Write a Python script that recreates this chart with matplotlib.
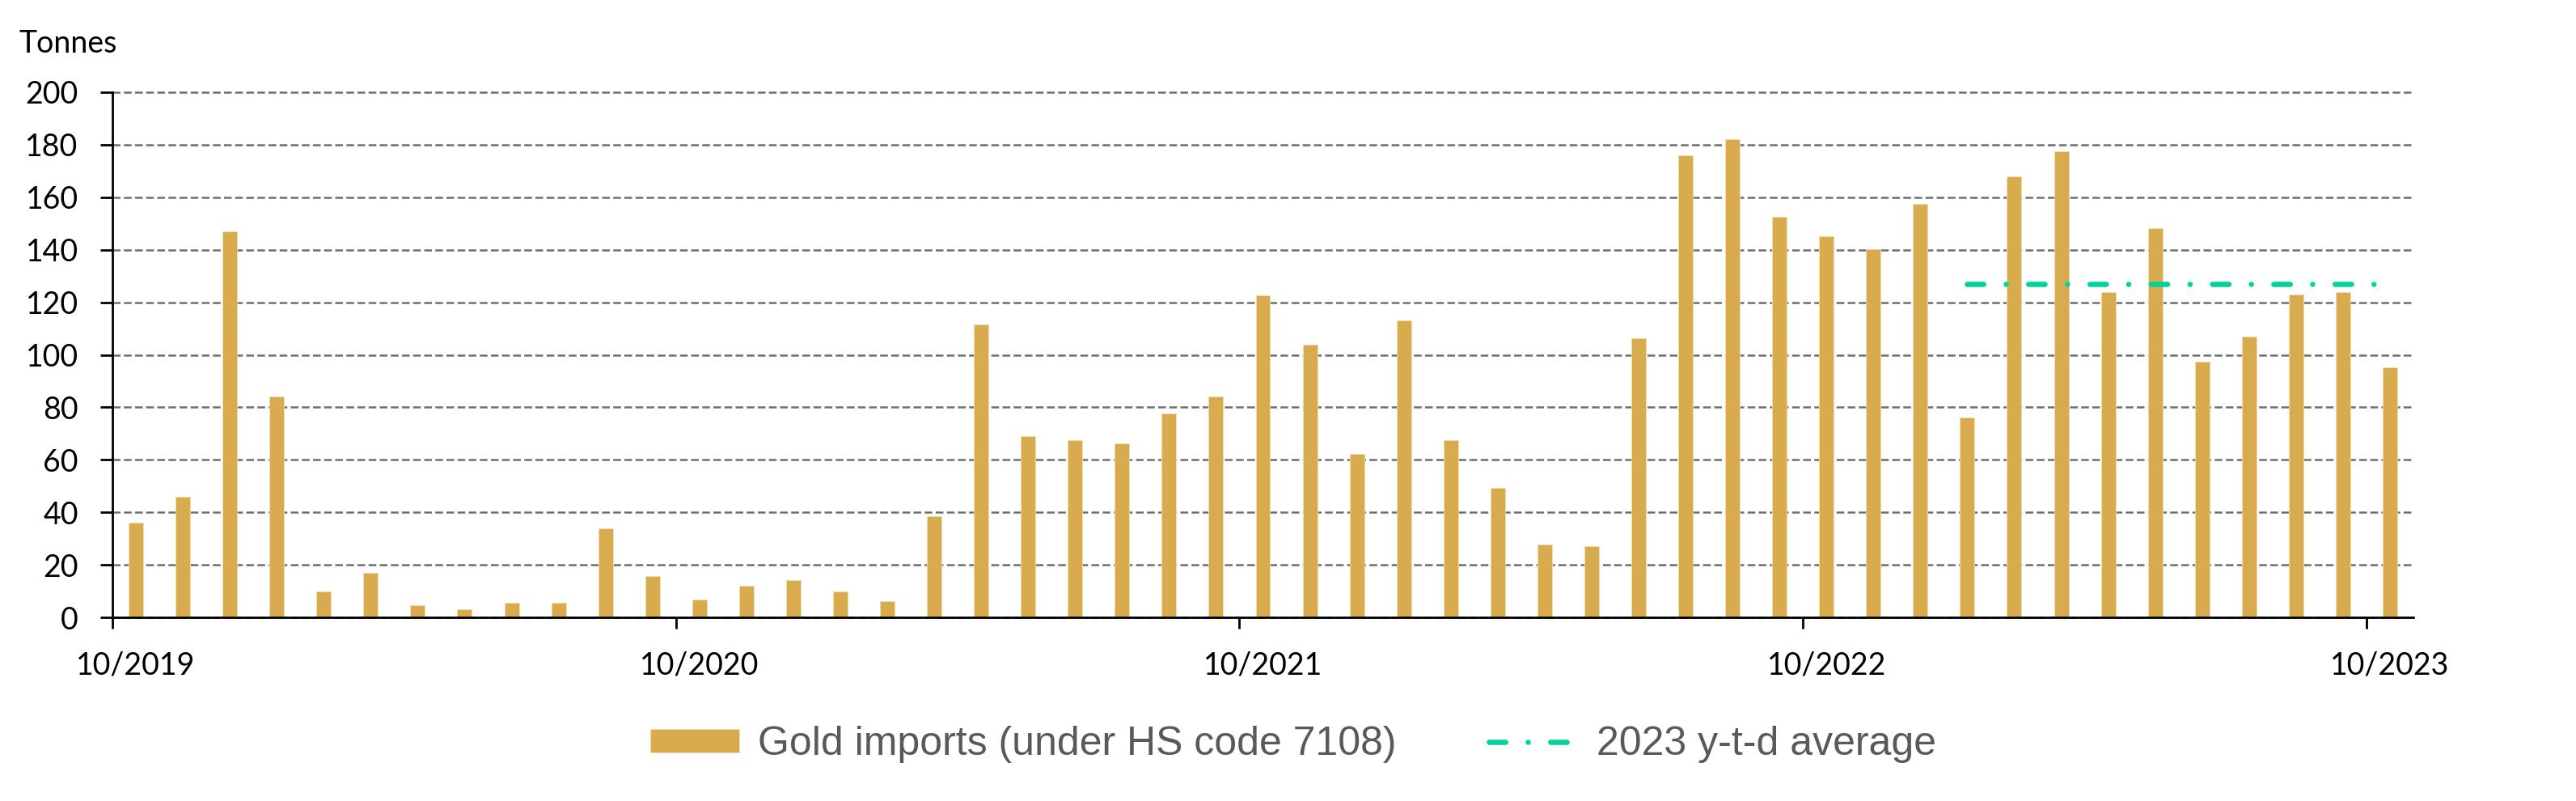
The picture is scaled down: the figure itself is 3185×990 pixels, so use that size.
import matplotlib
matplotlib.use("Agg")
import matplotlib.pyplot as plt
import numpy as np
import pandas as pd

# monthly gold imports, tonnes (10/2019 .. 10/2023)
months = pd.period_range("2019-10", "2023-10", freq="M").strftime("%m/%Y").tolist()
imports = [36, 46, 147, 84, 10, 17, 4.5, 3, 5.5, 5.5, 34, 15.7,
           6.7, 12, 14.2, 9.8, 6.2, 38.4, 111.7, 68.9, 67.4, 66.4, 77.8, 84,
           122.5, 104, 62.1, 113.2, 67.6, 49.2, 27.7, 27, 106.2, 176.1, 182, 152.4,
           145.2, 140.1, 157.6, 76, 168.1, 177.6, 124, 148.1, 97.5, 106.8, 122.9, 124,
           95.2]
tick_labels = ["10/2019", "10/2020", "10/2021", "10/2022", "10/2023"]
ytd_avg = 127
ytd_start = "01/2023"
ytd_end = "10/2023"

gold = "#D8AC4E"
green = "#00D49A"
tick_font = "Lato"
legend_font = "Liberation Sans"

W, H = 3185, 990
fig = plt.figure(figsize=(W / 100, H / 100), dpi=100)
ax = fig.add_axes([139 / W, 1 - 763 / H, (2984 - 139) / W, (763 - 114) / H])

x = np.arange(len(months)) + 0.5
bars = ax.bar(x, imports, width=0.31, color=gold, edgecolor="#F3DFAE", linewidth=0.6,
              label="Gold imports (under HS code 7108)", zorder=2)

i0 = months.index(ytd_start)
i1 = months.index(ytd_end)
avg_line, = ax.plot([x[i0], x[i1]], [ytd_avg, ytd_avg], color=green, lw=4.7,
                    dashes=(3.1, 4.25, 0.01, 4.25), dash_capstyle="round",
                    label="2023 y-t-d average", zorder=3)

ax.set_xlim(0, len(months))
ax.set_ylim(0, 200)
ax.set_yticks(np.arange(0, 201, 20))
ax.yaxis.grid(True, linestyle=(0, (3.8, 1.7)), color="#6e6e6e", linewidth=1.8)
for gl in ax.get_ygridlines():
    gl.set_clip_on(False)
ax.set_axisbelow(True)

for s in ["top", "right"]:
    ax.spines[s].set_visible(False)
for s in ["left", "bottom"]:
    ax.spines[s].set_linewidth(2.0)
    ax.spines[s].set_color("black")

tick_idx = [months.index(t) for t in tick_labels]
ax.set_xticks(tick_idx)
ax.set_xticklabels([])
ax.set_xticks([i + 0.5 for i in tick_idx], minor=True)
ax.set_xticklabels(tick_labels, minor=True, fontsize=27, family=tick_font)
ax.tick_params(axis="x", which="major", direction="out", length=10, width=2.0)
ax.tick_params(axis="x", which="minor", length=0, pad=30)
ax.tick_params(axis="y", direction="out", length=11, width=2.0, pad=19.5)
for lab in ax.get_yticklabels():
    lab.set_fontsize(27)
    lab.set_family(tick_font)

fig.text(23 / W, 1 - 65 / H, "Tonnes", fontsize=27, family=tick_font,
         ha="left", va="baseline")

leg = fig.legend(handles=[bars, avg_line], loc="center", bbox_to_anchor=(0.502, 1 - 920 / H),
                 ncol=2, frameon=False, prop={"family": legend_font, "size": 36},
                 handlelength=2.2, handleheight=0.5, handletextpad=0.45, columnspacing=2.3)
for t in leg.get_texts():
    t.set_color("#595959")

fig.savefig("out.png", dpi=100)
